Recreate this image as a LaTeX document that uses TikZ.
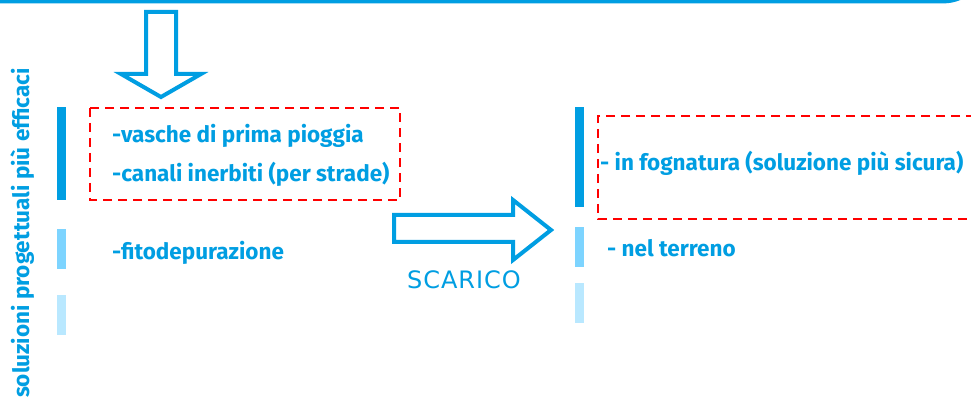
\documentclass[tikz,border=0pt]{standalone}
\usepackage{fontspec}
\setmainfont{Fira Sans}
\newfontfamily\scafont[LetterSpace=4]{DejaVu Sans}
\definecolor{cyanb}{RGB}{0,158,226}
\definecolor{cyanm}{RGB}{125,212,255}
\definecolor{cyanl}{RGB}{185,232,255}
\definecolor{redd}{RGB}{255,0,0}
\tikzset{
  lbl/.style={text=cyanb, font=\fontsize{22.5}{24}\selectfont\bfseries, anchor=base west, inner sep=0pt},
  redbox/.style={draw=redd, line width=2.8pt, dash pattern=on 9pt off 6pt},
  blockarrow/.style={draw=cyanb, line width=4pt, fill=white, line join=miter},
}
\begin{document}
\begin{tikzpicture}[x=1pt,y=-1pt]
\useasboundingbox (0,0) rectangle (971,403);
\fill[white] (0,0) rectangle (971,403);
% top line
\draw[cyanb, line width=4pt] (-2,1.5) -- (940,1.5) .. controls (950,1.5) and (955,0) .. (960,-2);
% down arrow
\draw[blockarrow] (146,12) -- (176,12) -- (176,74) -- (201,74) -- (161,97) -- (121,74) -- (146,74) -- cycle;
% left bars
\fill[cyanb] (57,107) rectangle (66,200);
\fill[cyanm] (57,229) rectangle (66,269);
\fill[cyanl] (57,295) rectangle (66,335);
% vertical label
\node[lbl, anchor=base, rotate=90] (vert) at (29,233) {soluzioni progettuali più efficaci};
% left red box
\draw[redbox] (90,108) rectangle (400,200);
\node[lbl] (t1) at (112,143) {-vasche di prima pioggia};
\node[lbl] (t2) at (112,182) {-canali inerbiti (per strade)};
\node[lbl] (t3) at (112,260) {-fitodepurazione};
% right arrow
\draw[blockarrow] (394,215) -- (513,215) -- (513,200) -- (551,230) -- (513,260) -- (513,242) -- (394,242) -- cycle;
\node[text=cyanb, font=\fontsize{24}{26}\selectfont\scafont, anchor=base, inner sep=0pt] (scarico) at (464,288) {SCARICO};
% right bars
\fill[cyanb] (575,107) rectangle (584,207);
\fill[cyanm] (575,227) rectangle (584,267);
\fill[cyanl] (575,283) rectangle (584,323);
% right red box
\draw[redbox] (975,116) -- (598,116) -- (598,219) -- (975,219);
\node[lbl] (r1) at (600,171) {- in fognatura (soluzione più sicura)};
\node[lbl] (r2) at (607,256) {- nel terreno};
\end{tikzpicture}
\end{document}
